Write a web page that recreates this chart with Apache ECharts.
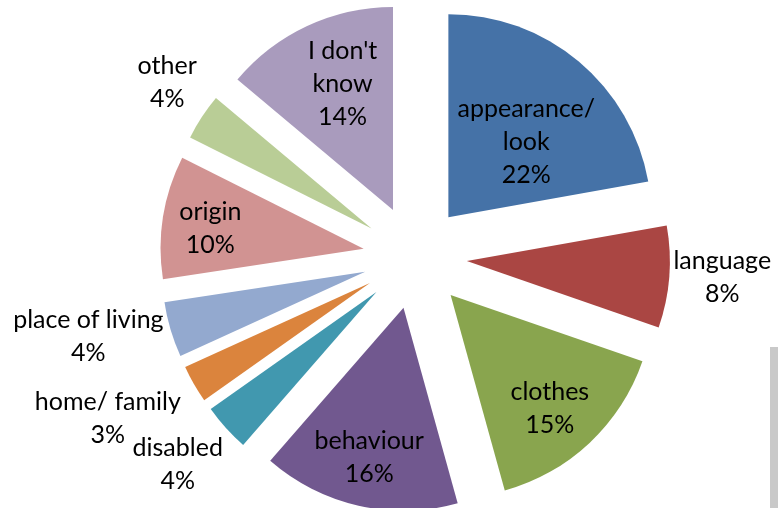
<!DOCTYPE html>
<html>
<head>
<meta charset="utf-8">
<style>
  html, body { margin: 0; padding: 0; background: #fff; }
  #chart { width: 778px; height: 508px; }
</style>
<script src="https://cdn.jsdelivr.net/npm/echarts@6/dist/echarts.min.js"></script>
</head>
<body>
<div id="chart"></div>
<script>
// data (shares in %; labels show them rounded)
const categories = ['appearance/\nlook', 'language', 'clothes', 'behaviour', 'disabled',
    'home/ family', 'place of living', 'origin', 'other', "I don't\nknow"]
const values = [22.2, 8.1, 15.4, 15.7, 3.8, 3.0, 4.4, 9.8, 3.7, 13.9]
const colors = ['#4572A7', '#AA4643', '#89A54E', '#71588F', '#4198AF',
    '#DB843D', '#93A9CF', '#D19392', '#B9CD96', '#A99BBD']

// label placement: distance from the slice tip (share of radius) and turn in degrees (clockwise)
const labelRadius = [0.517, 1.246, 0.729, 0.742, 1.281, 1.438, 1.385, 0.747, 1.221, 0.651]
const labelTurn = [4.2, -0.7, 1.6, 0.1, 1.0, 2.2, 2.9, -1.1, 1.8, 2.3]

const RADIUS = 203
const EXPLODE = 52
const total = values.reduce((s, v) => s + v, 0)
let acc = 0
const midAngle = values.map(v => {
    const a = (acc + v / 2) / total * Math.PI * 2
    acc += v
    return a
})

;(function () {
    const myChart = echarts.init(document.getElementById('chart'))
    const option = {
        animation: false,
        color: colors,
        graphic: [
            {
                type: 'rect',
                shape: { x: 770, y: 347, width: 8, height: 161 },
                style: { fill: '#c9c9c9' },
                silent: true
            }
        ],
        series: [
            {
                type: 'pie',
                center: [415, 257],
                radius: [0, RADIUS],
                startAngle: 90,
                clockwise: true,
                selectedMode: 'multiple',
                selectedOffset: EXPLODE,
                avoidLabelOverlap: false,
                emphasis: { disabled: true },
                select: { itemStyle: { borderWidth: 0 } },
                itemStyle: { borderWidth: 0 },
                label: {
                    show: true,
                    position: 'inside',
                    rotate: 0,
                    color: '#000',
                    fontFamily: 'Lato',
                    fontSize: 25,
                    lineHeight: 33,
                    align: 'center',
                    formatter: p => p.name + '\n' + Math.round(p.percent) + '%'
                },
                labelLine: { show: false },
                // inside labels start at half radius; move them to where the original has them
                labelLayout: function (params) {
                    const i = params.dataIndex
                    const a = midAngle[i]
                    const b = a + labelTurn[i] * Math.PI / 180
                    const from = EXPLODE + RADIUS / 2
                    const to = EXPLODE + labelRadius[i] * RADIUS
                    return {
                        dx: to * Math.sin(b) - from * Math.sin(a),
                        dy: -to * Math.cos(b) + from * Math.cos(a)
                    }
                },
                data: categories.map((name, i) => ({
                    name: name,
                    value: values[i],
                    selected: true
                }))
            }
        ]
    }
    myChart.setOption(option)
})()
</script>
</body>
</html>
